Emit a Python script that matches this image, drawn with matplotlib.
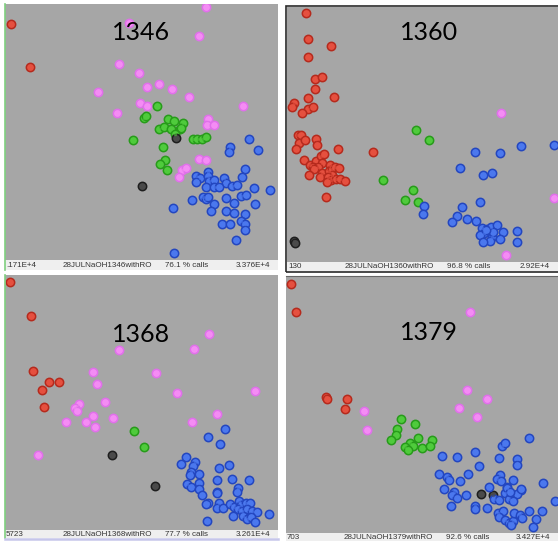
import numpy as np
import matplotlib
matplotlib.use("Agg")
import matplotlib.pyplot as plt

W, H = 558, 546

# point positions (x, y) in each panel's own frame, y grows downward
red_1346 = [(10.7, 24.3), (30.3, 66.7)]
pink_1346 = [(206, 6.7), (129.3, 22.7), (198.7, 36), (119.3, 63.7), (139.3, 73), (146.7, 86.7),
             (158.7, 84.3), (172, 89.3), (188.7, 97.3), (98.3, 92.3), (140, 102.7), (146.7, 105.7),
             (116.7, 112.7), (243.3, 106), (208, 119.3), (206.7, 125), (213.7, 125), (199.3, 159),
             (206, 160.3), (181.7, 170), (185.7, 168.3), (179, 177)]
green_1346 = [(156.7, 106), (144.3, 118), (146, 116.3), (168.3, 118.7), (173.7, 121.3), (182.7, 123.3),
              (158.7, 128.7), (164.3, 126.7), (170.7, 129.3), (179.7, 129.3), (181.3, 127.7),
              (175.3, 133.7), (132.7, 140.3), (192.7, 139.3), (197.3, 139.3), (201.7, 139.3),
              (206, 137.3), (163, 147.3), (164.7, 160), (160.3, 163.7), (167.3, 169.7)]
black_1346 = [(176, 138.3), (141.7, 185.7)]
blue_1346 = [(230, 146.7), (229, 151.7), (249, 139), (257.7, 150.3), (245, 169.3), (241.7, 176.7),
             (195.7, 175.7), (200.3, 177.7), (207.7, 172), (208.3, 176), (209, 180.7), (214.3, 180.3),
             (196, 182.3), (224.3, 178.3), (225.7, 183.3), (232, 186), (237.3, 185.3), (206.3, 187.3),
             (214.3, 187.3), (219.3, 187.3), (254, 188.3), (270.3, 189.7), (241.3, 196), (245.7, 194.7),
             (192.3, 200.3), (203.3, 197), (205.7, 199), (207.7, 197), (225.7, 198.3), (234, 203),
             (213.7, 203.7), (255.3, 204.3), (173.3, 208.3), (211.3, 211), (225.7, 210.7), (234, 212.7),
             (245, 213.7), (240.7, 220.7), (245, 224), (221.7, 224), (230.3, 224), (245.3, 230.3),
             (236, 240), (174, 252.7)]

red_1360 = [(26, 12.7), (28.3, 38.7), (51, 46.3), (28.3, 57), (34.7, 78.7), (42, 77), (35.3, 88.7),
            (28.3, 98), (54, 97.3), (14, 103.3), (12, 107.3), (27.7, 109), (32.7, 107), (22, 113),
            (17.7, 134.7), (21, 135.3), (19, 143.3), (25, 140), (16, 149.3), (36.3, 139.3), (37, 145.3),
            (58.3, 149.3), (92.7, 151.7), (24, 160), (30, 164.7), (35.7, 160.7), (40.7, 156), (44.3, 154.3),
            (42.3, 162.7), (33, 166.7), (38.3, 167.3), (34.3, 169.3), (29, 175), (41.7, 173.3),
            (39.7, 176.7), (49.7, 165.3), (49, 170.7), (51.7, 169.3), (55, 167.3), (59, 168),
            (52.3, 174.7), (47.7, 176.7), (51, 180), (47, 182), (55.7, 178.7), (60.3, 178.7),
            (65, 180.7), (45.7, 197.3)]
green_1360 = [(136, 129.7), (149.3, 139.7), (102.7, 180), (132.7, 190), (125.3, 200), (137.7, 202.3)]
blue_1360 = [(195, 151.7), (220, 153), (241.3, 146.3), (274, 145), (180, 167.7), (203.3, 175.3),
             (212, 173.3), (144, 206.3), (143.3, 214.3), (182, 206.7), (200, 202.3), (177.3, 216),
             (172, 221.7), (186.7, 219), (195.7, 221), (201.7, 228.3), (207.3, 229.3), (210.7, 226.7),
             (216.7, 225.3), (204, 233.3), (200, 235.3), (212, 236.7), (223.3, 232), (220, 238.7),
             (210, 240.7), (203.3, 242.3), (236.7, 231.3), (236.7, 241.7), (213.3, 231.7), (206, 230)]
pink_1360 = [(221.3, 112.7), (274, 198), (225.7, 255.3)]
black_1360 = [(14, 240.7), (15.3, 243.3)]

red_1368 = [(10, 7.3), (31, 40.7), (33, 95.7), (49.3, 106.7), (58.7, 107), (42.3, 115.3), (43.7, 131.7)]
pink_1368 = [(209.3, 59.3), (194, 73.7), (119.3, 75.3), (92.7, 97.3), (155.7, 98), (96.7, 108.7),
             (177, 117.7), (254.7, 116.3), (104.7, 127), (78.7, 129.3), (75.3, 133.3), (77.3, 136),
             (216.7, 139.3), (92.7, 140.7), (112.7, 142.7), (65.7, 146.7), (85.7, 146.7), (191.7, 147.3),
             (95, 152), (38.3, 180.3)]
green_1368 = [(134.3, 156.3), (143.7, 172)]
black_1368 = [(111.7, 180), (154.7, 211)]
blue_1368 = [(224.7, 153.7), (208, 162), (220, 169.3), (185.7, 182.3), (181, 189.3), (195, 187),
             (192.7, 191), (190.7, 196.7), (190, 200.3), (199.3, 199.3), (218.7, 193), (229.3, 189.7),
             (232, 203.7), (249, 205), (216.7, 205.3), (186.7, 209), (190.7, 211.7), (198.7, 208.3),
             (199.3, 214.3), (201.7, 220.3), (216.7, 216.7), (217.3, 217.7), (238, 212.7), (236.7, 217),
             (208, 228.3), (206, 229), (218.7, 227.7), (217.3, 233.3), (222.7, 233.3), (230, 229),
             (234, 231.7), (239.3, 225.7), (241.3, 230.3), (246, 228.3), (250, 227.7), (238, 233.7),
             (242, 235.7), (246.7, 234.3), (252, 236.3), (257.3, 237), (269.3, 238.7), (233.3, 241),
             (242.7, 241), (247.3, 243.7), (251.3, 241.7), (255.3, 247), (207.3, 245.7)]

red_1379 = [(11, 9), (16, 36.7), (46, 121.7), (47.3, 124.3), (67.3, 123.7), (65, 134.3)]
pink_1379 = [(190, 36.7), (187.3, 115.3), (207, 124), (179.3, 133), (196.7, 142.3), (84, 136.3),
             (86.7, 154.7)]
green_1379 = [(121.3, 143.7), (135, 149), (117, 154), (116, 159.7), (110.7, 164.7), (138, 163.3),
              (151.7, 164.7), (130, 168), (133.3, 170.7), (125.3, 172), (128.3, 174.7), (142.3, 173.3),
              (149.7, 171.3)]
black_1379 = [(200.7, 219), (213, 220)]
blue_1379 = [(249.3, 163), (222, 171), (224.7, 168.3), (162, 180.7), (177.3, 182.3), (194.7, 177.3),
             (218.7, 183.3), (236.7, 183.7), (236.7, 189.7), (199.3, 191), (159.3, 199), (166.7, 201.7),
             (168.7, 205), (180, 205.7), (188, 198.7), (220, 199.7), (216.7, 203.7), (220.7, 206.3),
             (232.7, 205), (262.7, 207.7), (164, 213.7), (174, 217), (172, 219.7), (176.7, 223),
             (186, 219.7), (208.7, 211.7), (226.7, 212.3), (241.3, 215), (237.3, 219), (225.3, 218.3),
             (228.7, 224.3), (232.7, 226.3), (214, 224.3), (218.7, 225), (275.3, 225.7), (170.7, 231),
             (194.7, 231), (194.7, 234.3), (206.7, 233), (218, 238.3), (222.7, 235.7), (219.3, 242.3),
             (225.3, 245), (228.7, 248.3), (232.7, 246.3), (234, 238.3), (240, 240.3), (242, 243),
             (249.3, 236.3), (262, 236.3), (256, 244.3), (253.3, 251.7), (231.3, 250.3), (227.3, 212.7),
             (230, 216.7), (240.7, 214.3)]

titles = ["1346", "1360", "1368", "1379"]
left_labels = [".171E+4", "130", "5723", "703"]
run_names = ["28JULNaOH1346withRO", "28JULNaOH1360withRO", "28JULNaOH1368withRO", "28JULNaOH1379withRO"]
call_rates = ["76.1 % calls", "96.8 % calls", "77.7 % calls", "92.6 % calls"]
right_labels = ["3.376E+4", "2.92E+4", "3.261E+4", "3.427E+4"]

colors = {
    "red": ("#e5503f", "#b52a1d"),
    "pink": ("#f48cf4", "#e070ea"),
    "green": ("#4fcb3c", "#279b1a"),
    "blue": ("#4b78ee", "#2346bf"),
    "black": ("#4a4a4a", "#1e1e1e"),
}

panels = [
    # origin of panel frame, gray plot area (x0, x1, y0, y1) in that frame, status bar bottom
    dict(org=(0, 0), area=(5, 278, 4, 260), bar=270, title_xy=(141, 33),
         groups=[("red", red_1346), ("pink", pink_1346), ("green", green_1346),
                 ("black", black_1346), ("blue", blue_1346)]),
    dict(org=(280, 0), area=(7, 278, 7, 262), bar=271, title_xy=(149, 33),
         groups=[("red", red_1360), ("green", green_1360), ("blue", blue_1360),
                 ("pink", pink_1360), ("black", black_1360)]),
    dict(org=(0, 275), area=(5, 278, 0, 255), bar=263, title_xy=(141, 60),
         groups=[("red", red_1368), ("pink", pink_1368), ("green", green_1368),
                 ("black", black_1368), ("blue", blue_1368)]),
    dict(org=(280, 275), area=(6, 278, 1, 258), bar=266, title_xy=(149, 58),
         groups=[("red", red_1379), ("pink", pink_1379), ("green", green_1379),
                 ("black", black_1379), ("blue", blue_1379)]),
]


def px_axes(fig, x0, x1, y0, y1):
    return fig.add_axes([x0 / W, 1 - y1 / H, (x1 - x0) / W, (y1 - y0) / H])


fig = plt.figure(figsize=(W / 100, H / 100), dpi=100)
fig.patch.set_facecolor("white")

for i, p in enumerate(panels):
    ox, oy = p["org"]
    ax0, ax1, ay0, ay1 = p["area"]
    ax = px_axes(fig, ox + ax0, ox + ax1, oy + ay0, oy + ay1)
    ax.set_facecolor("#a6a6a6")
    ax.set_xlim(ax0, ax1)
    ax.set_ylim(ay1, ay0)
    ax.set_xticks([])
    ax.set_yticks([])
    for s in ax.spines.values():
        s.set_visible(False)
    for name, pts in p["groups"]:
        pts = np.array(pts)
        face, edge = colors[name]
        ax.scatter(pts[:, 0], pts[:, 1], s=36, c=face, edgecolors=edge, linewidths=1.1, zorder=3)
        ax.scatter(pts[:, 0], pts[:, 1], s=6, c=face, alpha=0.6, linewidths=0, zorder=4)
    tx, ty = p["title_xy"]
    ax.text(tx, ty, titles[i], fontsize=18, family="Lato", ha="center", va="center",
            color="black", zorder=5)

    # status bar
    bar = px_axes(fig, ox + ax0, ox + ax1, oy + ay1, oy + p["bar"])
    bar.set_facecolor("#efefef")
    bar.set_xlim(ax0, ax1)
    bar.set_ylim(0, 1)
    bar.set_xticks([])
    bar.set_yticks([])
    for s in bar.spines.values():
        s.set_visible(False)
    kw = dict(fontsize=5.8, family="Liberation Sans", va="center", color="#333333")
    bar.text(ax0 + 1, 0.45, left_labels[i], ha="left", **kw)
    bar.text(ax0 + 58, 0.45, run_names[i], ha="left", **kw)
    bar.text(ax0 + 160, 0.45, call_rates[i], ha="left", **kw)
    bar.text(ax1 - 8, 0.45, right_labels[i], ha="right", **kw)

# panel frames
fig.add_artist(plt.Line2D([4.5 / W, 4.5 / W], [1 - 4 / H, 1 - 270 / H], color="#7fcf7f", lw=1.2))
fig.add_artist(plt.Line2D([4.5 / W, 4.5 / W], [1 - 275 / H, 1 - 538 / H], color="#7fcf7f", lw=1.2))
fig.add_artist(plt.Line2D([5 / W, 278 / W], [1 - 539 / H, 1 - 539 / H], color="#c6c6ea", lw=1.8))
fig.add_artist(plt.Rectangle((285.7 / W, 1 - 271.5 / H), 280 / W, 265.8 / H, fill=False,
                             ec="#2a2a2a", lw=1.2))
fig.add_artist(plt.Line2D([286 / W, 558 / W], [1 - 276 / H, 1 - 276 / H], color="#666666", lw=0.8))

fig.savefig("out.png", dpi=100)
